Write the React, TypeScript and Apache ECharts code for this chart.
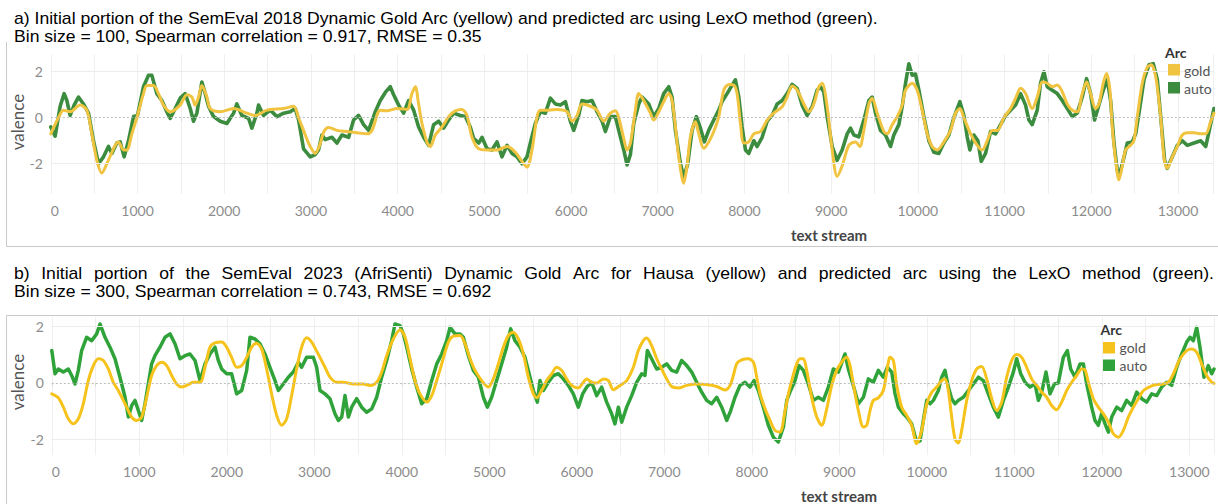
import React, { useEffect, useRef } from "react";
import * as echarts from "echarts";

// ---------- Panel a (SemEval 2018, bin size 100) ----------
const topGoldX = [0,88,146,223,338,415,473,531,588,646,742,781,838,877,935,992,1069,1108,1185,1242,1300,1377,1492,1569,1627,1665,1704,1742,1800,1838,1954,2108,2262,2358,2492,2685,2800,2858,2935,2992,3050,3100,3150,3204,3300,3415,3531,3646,3704,3800,3877,3992,4108,4165,4204,4242,4281,4338,4377,4435,4512,4588,4665,4742,4800,4858,4935,5031,5146,5262,5358,5435,5492,5550,5608,5646,5742,5838,5954,6012,6069,6127,6223,6300,6377,6454,6512,6550,6608,6646,6685,6742,6781,6838,6915,6954,7012,7069,7127,7165,7204,7242,7300,7338,7377,7435,7473,7531,7588,7646,7704,7762,7819,7877,7915,7954,7992,8050,8108,8185,8262,8338,8435,8492,8550,8608,8685,8742,8800,8858,8896,8954,9012,9069,9127,9204,9281,9331,9377,9435,9473,9531,9608,9646,9704,9762,9819,9858,9935,9992,10050,10108,10165,10223,10300,10377,10435,10485,10531,10608,10685,10742,10800,10858,10915,10992,11069,11127,11185,11242,11319,11377,11435,11492,11550,11608,11665,11723,11781,11838,11896,11946,11992,12050,12088,12138,12177,12215,12242,12281,12319,12358,12396,12454,12492,12531,12588,12646,12692,12742,12800,12838,12877,12935,12992,13050,13108,13185,13262,13320,13377,13415];
const topGoldY = [-0.7,0,0.33,0.26,0.55,0.33,-0.7,-1.85,-2.4,-2.0,-1.2,-1.05,-1.4,-1.4,-0.7,0,1.05,1.4,1.4,1.05,0.55,0.26,0.55,1.0,0.9,0.55,0.9,1.4,0.9,0.4,0.26,0.4,0.2,0.1,0.33,0.4,0.5,0.0,-0.75,-1.25,-1.55,-1.2,-0.6,-0.42,-0.55,-0.6,-0.65,-0.7,-0.55,0.33,0.3,0.4,0.36,1.05,1.35,0.6,-0.25,-1.05,-1.25,-0.75,-0.4,0.05,0.3,0.36,0.1,-0.85,-1.35,-1.4,-1.4,-1.25,-1.5,-1.9,-2.15,-1.4,0.05,0.33,0.33,0.36,0.26,-0.15,0.1,0.6,0.5,0.33,-0.15,0.2,0.3,0,-0.9,-1.4,-1.1,0.33,1.05,0.75,0.2,-0.1,0.26,0.7,1.05,0.75,-0.4,-1.7,-2.85,-2.1,-0.83,-0.17,-0.7,-1.33,-1.05,-0.6,0.05,1.2,1.45,1.42,1.05,-0.25,-1.1,-1.05,-0.7,-0.6,-0.1,0.2,0.48,0.9,1.38,1.2,0.6,0.26,0.6,1.35,1.5,0.48,-1.4,-2.55,-2.1,-1.2,-1.05,-1.25,-0.55,0.6,0.85,0.2,-0.6,-0.7,-0.3,0.05,0.55,1.2,1.5,1.2,0.33,-0.7,-1.25,-1.4,-1.05,-0.55,0.2,0.4,0.0,-0.7,-1.2,-1.4,-1.0,-0.55,-0.55,0,0.4,0.85,1.28,1.05,0.4,0.9,1.55,1.5,1.35,1.42,1.13,0.6,0.33,0.26,1.05,1.55,1.05,0.4,0.6,1.5,1.92,1.2,-0.4,-1.85,-2.7,-2.1,-1.4,-1.2,-1.0,0.05,1.5,2.2,2.3,1.8,0.05,-1.7,-2.2,-1.7,-1.25,-0.75,-0.65,-0.65,-0.7,-0.7,-0.17,0.2];

const topAutoX = [0,50,108,154,185,223,269,319,377,435,492,550,608,665,704,762,800,846,896,954,1000,1069,1127,1165,1223,1281,1338,1377,1435,1492,1550,1608,1646,1685,1742,1781,1819,1877,1954,2031,2108,2146,2204,2281,2319,2377,2396,2454,2531,2608,2685,2762,2819,2858,2915,2992,3050,3088,3127,3165,3242,3300,3358,3435,3492,3550,3608,3665,3742,3800,3858,3915,3954,4012,4069,4127,4185,4242,4300,4358,4415,4473,4531,4588,4646,4723,4781,4838,4877,4935,4973,5031,5088,5146,5204,5262,5319,5377,5435,5492,5531,5588,5646,5704,5762,5819,5877,5935,5992,6031,6088,6127,6185,6242,6300,6358,6396,6454,6512,6550,6608,6646,6685,6723,6781,6819,6858,6896,6954,7012,7069,7127,7165,7204,7262,7300,7346,7396,7446,7492,7538,7588,7646,7704,7742,7800,7858,7896,7935,7973,8012,8050,8108,8146,8204,8262,8319,8377,8435,8492,8550,8608,8665,8723,8781,8838,8877,8915,8954,9012,9069,9127,9185,9223,9262,9319,9377,9435,9473,9512,9569,9627,9685,9723,9781,9819,9858,9896,9935,9973,10012,10069,10127,10185,10242,10300,10358,10415,10485,10531,10569,10600,10646,10692,10731,10781,10838,10896,10954,11012,11069,11127,11185,11242,11281,11319,11377,11415,11454,11492,11550,11608,11665,11723,11781,11838,11896,11946,11992,12038,12088,12138,12185,12223,12262,12300,12331,12369,12415,12473,12512,12550,12608,12665,12715,12762,12808,12846,12877,12935,12992,13050,13108,13185,13262,13320,13358,13415];
const topAutoY = [-0.4,-0.8,0.5,1.05,0.75,0.1,0.55,0.9,0.6,0.2,-1.0,-2.0,-1.7,-1.25,-1.55,-1.1,-1.05,-1.7,-1.0,0.05,0.1,1.35,1.85,1.85,1.05,0.75,0.26,-0.03,0.4,0.85,1.05,0.4,-0.15,0.2,1.55,1.05,0.5,0.05,-0.15,-0.25,0.2,0.6,0.1,-0.03,-0.45,0.2,0.55,0.1,0.33,0.05,0.2,0.26,0.4,-0.1,-1.35,-1.7,-1.6,-1.4,-0.75,-0.95,-0.85,-1.1,-0.75,-0.85,-0.1,0.1,-0.3,-0.55,0.26,0.75,1.1,1.35,1.0,0.55,0.2,0.75,0.33,-0.4,-0.85,-1.2,-0.3,-0.15,-0.45,-0.1,0.2,0.1,0.05,-0.4,-0.9,-1.1,-0.85,-1.35,-1.4,-1.05,-1.7,-1.2,-1.55,-1.7,-2.0,-1.7,-1.1,-0.25,0.26,0.2,0.85,0.6,0.55,0.7,-0.15,-0.55,0.1,0.75,0.7,0.75,0.26,-0.15,-0.6,0.05,0.05,-0.55,-1.4,-2.05,-1.6,-0.25,0.6,0.9,0.75,0.6,0.05,0.4,1.05,1.35,0.9,-0.55,-2.0,-2.6,-2.0,-0.55,0.05,-0.45,-1.05,-0.55,-0.1,0.33,0.7,1.05,1.42,1.65,0.9,-0.4,-1.4,-1.55,-1.0,-1.25,-0.85,-0.15,0.1,0.6,0.75,1.05,1.45,1.28,0.55,0.1,0.48,1.2,1.35,1.13,0.05,-1.25,-1.85,-1.4,-0.7,-0.45,-0.75,-0.83,-0.1,0.75,0.9,0.2,-0.55,-0.75,-1.25,-0.75,-0.3,0.48,1.5,2.35,1.85,1.9,1.2,0.05,-1.0,-1.5,-1.55,-1.1,-0.75,0.0,0.7,0.1,-0.83,-1.4,-0.75,-1.0,-1.9,-1.55,-0.6,-0.7,-0.3,0.1,0.33,0.55,1.05,0.55,-0.1,-0.3,0.33,1.5,2.0,1.35,1.2,1.05,0.75,0.4,0.05,0.2,0.9,1.7,1.05,-0.1,0.55,1.2,1.65,0.75,-1.1,-2.3,-2.4,-1.85,-1.1,-1.05,-0.7,0.2,1.65,2.3,2.35,1.65,-0.25,-1.85,-2.2,-1.7,-1.2,-1.0,-1.2,-1.1,-1.0,-1.25,-0.6,0.4];

// ---------- Panel b (AfriSenti Hausa, bin size 300) ----------
const botGoldX = [0,74,132,189,246,303,360,417,475,532,589,646,703,760,837,913,970,1027,1084,1141,1198,1256,1313,1370,1427,1484,1541,1618,1694,1751,1808,1865,1941,1998,2055,2113,2170,2227,2284,2341,2398,2455,2512,2570,2627,2684,2741,2798,2855,2912,2970,3027,3065,3122,3179,3256,3332,3446,3560,3637,3713,3770,3827,3903,3980,4037,4094,4151,4208,4285,4342,4399,4456,4532,4589,4665,4723,4780,4837,4913,4989,5046,5103,5160,5217,5274,5332,5389,5446,5503,5541,5598,5655,5713,5770,5827,5884,5941,6017,6074,6113,6170,6227,6303,6360,6417,6494,6570,6646,6703,6760,6798,6855,6913,6970,7027,7084,7160,7256,7370,7484,7599,7694,7751,7789,7827,7884,7960,8018,8056,8094,8151,8208,8265,8322,8380,8418,8456,8513,8551,8589,8627,8684,8742,8799,8856,8913,8970,9027,9084,9122,9160,9218,9275,9313,9351,9389,9446,9503,9542,9580,9618,9656,9713,9770,9827,9884,9941,9999,10056,10113,10170,10208,10246,10284,10322,10360,10398,10456,10513,10570,10627,10684,10742,10799,10856,10913,10970,11027,11084,11141,11198,11256,11313,11370,11427,11484,11541,11599,11656,11713,11770,11808,11846,11903,11960,12017,12075,12132,12189,12246,12303,12360,12418,12475,12551,12627,12703,12761,12818,12894,12970,13027,13084,13141,13198,13256,13282];
const botGoldY = [-0.39,-0.53,-0.86,-1.27,-1.45,-1.27,-0.74,0.08,0.61,0.85,0.79,0.49,0.02,-0.27,-0.74,-1.21,-1.33,-1.21,-0.51,0.26,0.61,0.73,0.61,0.26,-0.04,-0.15,-0.09,0.02,0.02,0.55,1.26,1.41,1.44,1.26,0.9,0.55,0.61,0.9,1.26,1.4,1.2,0.49,-0.39,-1.15,-1.5,-1.27,-0.45,0.49,1.26,1.59,1.44,1.12,0.9,0.55,0.2,0.02,0.02,-0.04,-0.04,-0.09,0.02,0.38,0.96,1.55,1.88,1.61,0.85,0.08,-0.39,-0.68,-0.45,0.08,0.67,1.44,1.65,1.67,1.38,0.85,0.44,0.08,-0.15,0.14,0.67,1.26,1.67,1.79,1.55,1.02,0.2,-0.39,-0.53,-0.27,0.08,0.32,0.55,0.44,0.14,-0.09,-0.18,0.02,0.14,0.02,-0.01,0.14,0.08,-0.24,-0.09,0.08,0.55,1.14,1.49,1.58,1.32,0.85,0.49,0.14,-0.13,-0.18,-0.09,-0.04,-0.06,-0.13,-0.25,-0.09,0.26,0.67,0.81,0.85,0.73,0.2,-0.39,-0.92,-1.33,-1.68,-1.74,-0.98,-0.39,0.08,0.67,0.85,0.85,0.44,-0.51,-1.21,-1.5,-0.92,-0.09,0.44,0.73,0.9,0.61,-0.04,-0.98,-1.56,-1.5,-0.98,-0.62,-0.53,-0.27,0.38,0.9,0.79,-0.09,-0.86,-1.15,-1.5,-2.15,-1.68,-0.74,-0.33,-0.15,0.08,0.14,-0.27,-1.21,-1.98,-2.13,-1.68,-0.62,0.08,0.49,0.58,0.14,-0.56,-0.98,-0.68,0.2,0.79,1.0,0.9,0.55,0.14,-0.09,-0.33,-0.51,-0.8,-0.95,-0.68,-0.27,0.02,0.26,0.49,0.46,0.02,-0.56,-0.86,-1.09,-1.39,-1.8,-1.92,-1.68,-1.21,-0.86,-0.56,-0.27,-0.13,-0.06,-0.04,0.02,0.32,0.85,1.14,1.2,1.08,0.67,0.26,0.02,-0.02];

const botAutoX = [0,37,74,132,189,227,265,303,341,398,456,513,551,608,665,722,779,837,875,913,951,989,1027,1065,1103,1141,1179,1236,1294,1351,1408,1465,1522,1579,1637,1694,1751,1808,1865,1903,1941,1998,2055,2113,2170,2227,2265,2322,2379,2436,2493,2551,2589,2646,2703,2760,2818,2855,2912,2989,3027,3065,3122,3179,3236,3275,3313,3351,3389,3427,3484,3541,3598,3656,3713,3770,3827,3884,3922,3980,4018,4056,4113,4170,4227,4285,4342,4399,4456,4513,4551,4608,4665,4703,4761,4818,4875,4932,4977,5027,5084,5141,5198,5244,5293,5351,5408,5465,5503,5549,5579,5617,5675,5732,5789,5846,5903,5960,6017,6067,6113,6170,6227,6284,6341,6398,6436,6475,6513,6570,6627,6684,6741,6779,6806,6855,6913,6970,7027,7084,7141,7198,7256,7313,7370,7427,7484,7541,7599,7656,7713,7759,7808,7865,7922,7979,8025,8075,8132,8189,8246,8303,8361,8399,8444,8494,8540,8589,8646,8703,8760,8818,8875,8932,8989,9065,9103,9160,9218,9275,9332,9389,9446,9503,9549,9599,9637,9675,9732,9770,9827,9884,9922,9960,9999,10037,10075,10132,10170,10208,10246,10284,10322,10360,10417,10475,10532,10589,10646,10703,10760,10818,10875,10932,10989,11027,11073,11122,11179,11236,11275,11313,11362,11408,11458,11503,11560,11606,11644,11694,11751,11789,11827,11884,11922,11960,11998,12037,12075,12113,12170,12227,12284,12341,12399,12456,12513,12570,12627,12684,12742,12799,12856,12913,12970,13008,13046,13084,13122,13168,13217,13256,13282];
const botAutoY = [1.14,0.32,0.49,0.38,0.49,0.26,-0.04,0.44,1.14,1.61,1.49,1.73,2.08,1.61,1.26,0.85,0.2,-0.51,-1.21,-0.8,-0.62,-0.98,-1.33,-0.74,-0.04,0.67,0.96,1.26,1.61,1.73,1.38,0.85,0.96,1.02,0.79,0.08,0.67,1.02,1.26,0.79,0.49,0.32,0.32,-0.39,-0.27,0.44,1.61,1.55,1.38,1.02,0.55,0.08,-0.27,-0.04,0.2,0.38,0.73,0.55,0.9,0.9,0.55,-0.27,-0.39,-0.56,-1.09,-1.33,-1.21,-0.45,-1.21,-0.86,-0.56,-0.86,-1.04,-0.92,-0.51,0.2,0.79,1.49,2.08,2.02,1.73,1.26,0.49,-0.15,-0.74,-0.56,0.08,0.67,1.02,1.49,1.96,1.73,1.73,1.61,0.96,0.44,0.2,-0.51,-0.86,-0.51,0.08,0.67,1.26,1.91,1.49,1.26,0.9,0.2,-0.27,-0.68,0.08,-0.27,0.02,0.26,0.32,0.14,-0.09,-0.39,-0.86,-0.39,-0.15,0.02,-0.45,-0.15,-0.68,-1.09,-1.45,-0.86,-1.39,-0.86,-0.45,0.02,0.32,0.26,1.14,0.85,0.49,0.55,0.67,0.44,0.38,0.79,0.61,0.38,0.02,-0.33,-0.62,-0.74,-0.51,-0.86,-1.33,-0.98,-0.51,-0.09,0.02,-0.15,0.08,-0.27,-0.86,-1.5,-1.92,-2.09,-1.56,-0.62,-0.27,0.08,0.61,0.44,-0.04,-0.62,-0.51,-0.62,-0.15,0.49,0.38,1.02,0.49,-0.09,-0.74,-0.51,0.14,0.02,0.44,0.2,0.55,0.38,-0.39,-0.86,-1.09,-1.21,-1.45,-2.09,-2.05,-1.33,-0.62,-0.74,-0.62,-0.27,0.2,0.44,-0.15,-0.56,-0.74,-0.62,-0.51,-0.27,-0.04,0.2,0.08,-0.39,-0.86,-1.21,-0.62,-0.15,0.38,0.85,0.32,0.02,-0.15,-0.04,-0.62,-0.33,0.38,-0.39,-0.04,0.0,0.9,1.14,0.49,0.2,0.67,0.67,-0.04,-0.86,-1.33,-1.5,-1.09,-1.45,-1.74,-1.21,-0.86,-0.98,-0.62,-0.8,-0.33,-0.56,-0.68,-0.39,-0.45,-0.15,0.02,-0.09,0.55,1.02,1.44,1.61,1.49,1.96,1.26,0.2,0.61,0.32,0.49];

const yTickValues = [-2, 0, 2];

const titleA1 = "a) Initial portion of the SemEval 2018 Dynamic Gold Arc (yellow) and predicted arc using LexO method (green).";
const titleA2 = "Bin size = 100, Spearman correlation = 0.917, RMSE = 0.35";
const titleB1 = "b) Initial portion of the SemEval 2023 (AfriSenti) Dynamic Gold Arc for Hausa (yellow) and predicted arc using the LexO method (green).";
const titleB2 = "Bin size = 300, Spearman correlation = 0.743, RMSE = 0.692";

const zip = (xs: number[], ys: number[]) => xs.map((x, i) => [x, ys[i]]);

const TOP_GOLD = "#f0c440";
const TOP_AUTO = "#3b8c3e";
const BOT_GOLD = "#f6c21c";
const BOT_AUTO = "#2fa33a";

const TITLE_FAMILY = "'Liberation Sans', Arial, sans-serif";
const TITLE_SIZE = 16;
const TITLE_SCALE = 1.1;
const TITLE_LEFT = 14;

function xAxisCfg(gridIndex: number, max: number) {
  return {
    type: "value",
    gridIndex,
    min: 0,
    max,
    interval: 500,
    axisLine: { show: false },
    axisTick: { show: true, length: 4, lineStyle: { color: "#dcdcdc" } },
    splitLine: { show: true, lineStyle: { color: "#efefef", width: 1 } },
    axisLabel: {
      formatter: (v: number) => (v % 1000 === 0 ? String(v) : ""),
      color: "#8c8c8c",
      fontFamily: "Lato",
      fontSize: 14,
      margin: 9,
      alignMinLabel: "left",
      showMaxLabel: false,
    },
  };
}

function yAxisCfg(gridIndex: number, min: number, max: number) {
  return {
    type: "value",
    gridIndex,
    min,
    max,
    axisLine: { show: false },
    axisTick: { show: false },
    splitLine: { show: false },
    axisLabel: {
      customValues: yTickValues,
      color: "#8c8c8c",
      fontFamily: "Lato",
      fontSize: 14,
      margin: 8,
    },
  };
}

function gridLines(idx: number) {
  return {
    type: "line",
    xAxisIndex: idx,
    yAxisIndex: idx,
    data: [],
    z: 1,
    silent: true,
    markLine: {
      silent: true,
      symbol: "none",
      label: { show: false },
      animation: false,
      data: [
        { yAxis: 2, lineStyle: { color: "#ececec", width: 1, type: "solid" } },
        { yAxis: -2, lineStyle: { color: "#ececec", width: 1, type: "solid" } },
        { yAxis: 0, lineStyle: { color: "#bdbdbd", width: 1, type: [2, 2] } },
      ],
    },
  };
}

function lineSeries(name: string, idx: number, data: number[][], color: string, width: number, smooth: number | boolean, z: number) {
  return {
    name,
    type: "line",
    xAxisIndex: idx,
    yAxisIndex: idx,
    data,
    showSymbol: false,
    symbol: "none",
    smooth,
    z,
    lineStyle: { color, width, join: "round", cap: "round" },
    silent: true,
  };
}

function textEl(text: string, x: number, y: number, opts: any = {}) {
  return {
    type: "text",
    x,
    y,
    z: 100,
    rotation: opts.rotation || 0,
    scaleX: opts.scaleX || 1,
    silent: true,
    style: {
      text,
      fill: opts.fill || "#000",
      fontSize: opts.fontSize || 14,
      fontFamily: opts.fontFamily || "Lato",
      fontWeight: opts.fontWeight || "normal",
      textAlign: opts.align || "left",
      textVerticalAlign: "middle",
    },
  };
}

function rectEl(x: number, y: number, w: number, h: number, fill: string) {
  return { type: "rect", z: 100, silent: true, shape: { x, y, width: w, height: h }, style: { fill } };
}

function lineEl(x1: number, y1: number, x2: number, y2: number) {
  return { type: "line", z: 100, silent: true, shape: { x1, y1, x2, y2 }, style: { stroke: "#c9c9c9", lineWidth: 1 } };
}

const titleFont = { fontFamily: TITLE_FAMILY, fontSize: TITLE_SIZE, scaleX: TITLE_SCALE, fill: "#000" };

// justified caption line (words spread to fill the given width)
function justifiedLine(text: string, left: number, right: number, y: number) {
  const words = text.split(" ");
  const ctx = document.createElement("canvas").getContext("2d") as CanvasRenderingContext2D;
  ctx.font = `${TITLE_SIZE}px ${TITLE_FAMILY}`;
  const widths = words.map((w) => ctx.measureText(w).width * TITLE_SCALE);
  const sum = widths.reduce((a, b) => a + b, 0);
  const gap = (right - left - sum) / (words.length - 1);
  const els: any[] = [];
  let x = left;
  words.forEach((w, i) => {
    els.push(textEl(w, x, y, titleFont));
    x += widths[i] + gap;
  });
  return els;
}

function buildOption() {
  return {
    animation: false,
    backgroundColor: "#ffffff",
    grid: [
      { left: 50.8, top: 54.5, width: 1162.2, height: 139.6 },
      { left: 51.8, top: 316.9, width: 1162.2, height: 138.1 },
    ],
    xAxis: [xAxisCfg(0, 13404), xAxisCfg(1, 13282)],
    yAxis: [yAxisCfg(0, -3.32, 2.75), yAxisCfg(1, -2.55, 2.33)],
    series: [
      gridLines(0),
      gridLines(1),
      lineSeries("auto", 0, zip(topAutoX, topAutoY), TOP_AUTO, 3.6, false, 3),
      lineSeries("gold", 0, zip(topGoldX, topGoldY), TOP_GOLD, 3, 0.3, 4),
      lineSeries("auto", 1, zip(botAutoX, botAutoY), BOT_AUTO, 3.5, false, 3),
      lineSeries("gold", 1, zip(botGoldX, botGoldY), BOT_GOLD, 3, 0.3, 4),
    ],
    graphic: [
      // frames
      lineEl(6.5, 42, 6.5, 246.5),
      lineEl(6.5, 246.5, 1218, 246.5),
      lineEl(6.5, 315.5, 1218, 315.5),
      lineEl(6.5, 315.5, 6.5, 504),
      // titles
      textEl(titleA1, TITLE_LEFT, 18.5, titleFont),
      textEl(titleA2, TITLE_LEFT, 36.5, titleFont),
      ...justifiedLine(titleB1, TITLE_LEFT, 1214, 273.5),
      textEl(titleB2, TITLE_LEFT, 292, titleFont),
      // axis titles
      textEl("valence", 17, 122, { rotation: Math.PI / 2, align: "center", fontSize: 17, fill: "#555" }),
      textEl("valence", 17.5, 382, { rotation: Math.PI / 2, align: "center", fontSize: 17, fill: "#555" }),
      textEl("text stream", 829, 235, { align: "center", fontSize: 15, fontWeight: "bold", fill: "#444" }),
      textEl("text stream", 839, 496, { align: "center", fontSize: 15, fontWeight: "bold", fill: "#444" }),
      // legend top
      textEl("Arc", 1165, 52, { fontSize: 14, fontWeight: "bold", fill: "#333" }),
      rectEl(1168, 64, 12, 11.5, TOP_GOLD),
      textEl("gold", 1184, 70, { fontSize: 14, fill: "#555" }),
      rectEl(1168, 82, 12, 11.5, TOP_AUTO),
      textEl("auto", 1184, 88, { fontSize: 14, fill: "#555" }),
      // legend bottom
      textEl("Arc", 1100.5, 329, { fontSize: 14, fontWeight: "bold", fill: "#333" }),
      rectEl(1103, 342, 12, 11.5, BOT_GOLD),
      textEl("gold", 1119.5, 347.5, { fontSize: 14, fill: "#555" }),
      rectEl(1103, 359.5, 12, 11.5, BOT_AUTO),
      textEl("auto", 1119.5, 365.5, { fontSize: 14, fill: "#555" }),
    ],
  };
}

export default function App() {
  const ref = useRef<HTMLDivElement>(null);
  useEffect(() => {
    document.body.style.margin = "0";
    const chart = echarts.init(ref.current as HTMLDivElement, null, { renderer: "svg" });
    chart.setOption(buildOption() as any);
    return () => chart.dispose();
  }, []);
  return <div ref={ref} style={{ width: 1218, height: 504, background: "#fff" }} />;
}
